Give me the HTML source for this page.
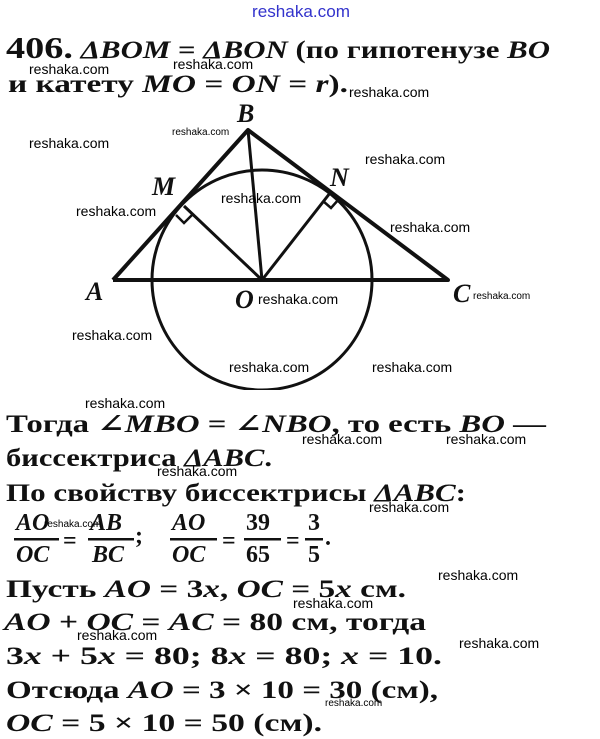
<!DOCTYPE html>
<html><head><meta charset="utf-8"><style>
html,body{margin:0;padding:0;background:#fff}
svg{display:block}
.t{font-family:"Liberation Serif","DejaVu Serif",serif;font-weight:bold;font-size:25px;fill:#111}
.i{font-style:italic}
.w{font-family:"Liberation Sans",sans-serif;font-size:14px;fill:#000}
.l{font-family:"Liberation Serif",serif;font-weight:bold;font-style:italic;font-size:26px;fill:#111}
</style></head><body>
<svg width="600" height="739" viewBox="0 0 600 739" xmlns="http://www.w3.org/2000/svg">
<text x="252" y="17" style="font-family:'Liberation Sans',sans-serif;font-size:17px;fill:#33c" textLength="98" lengthAdjust="spacingAndGlyphs">reshaka.com</text>
<text class="t" x="6" y="58" textLength="544" lengthAdjust="spacingAndGlyphs"><tspan font-size="31">406.</tspan> <tspan class="i">ΔBOM</tspan> = <tspan class="i">ΔBON</tspan> (по гипотенузе <tspan class="i">BO</tspan></text>
<text class="t" x="8" y="92" textLength="340" lengthAdjust="spacingAndGlyphs">и катету <tspan class="i">MO</tspan> = <tspan class="i">ON</tspan> = <tspan class="i">r</tspan>).</text>
<g stroke="#111" fill="none">
<circle cx="262" cy="280" r="110" stroke-width="3"/>
<polyline points="113,280 448,280 248,130 113,280" stroke-width="4" stroke-linejoin="round"/>
<line x1="248" y1="130" x2="262" y2="280" stroke-width="3"/>
<line x1="262" y1="280" x2="184" y2="206" stroke-width="3"/>
<line x1="262" y1="280" x2="330" y2="193" stroke-width="3"/>
<polyline points="176,215 184,223 193,214" stroke-width="2.5"/>
<polyline points="323,201 331,208 339,199" stroke-width="2.5"/>
</g>
<rect x="0" y="390" width="600" height="2" fill="#fff"/>
<text class="l" x="237" y="122">B</text>
<text class="l" x="152" y="195">M</text>
<text class="l" x="330" y="186">N</text>
<text class="l" x="86" y="300">A</text>
<text class="l" x="235" y="308">O</text>
<text class="l" x="453" y="302">C</text>
<text class="t" x="6" y="432" textLength="540" lengthAdjust="spacingAndGlyphs">Тогда ∠<tspan class="i">MBO</tspan> = ∠<tspan class="i">NBO</tspan>, то есть <tspan class="i">BO</tspan> —</text>
<text class="t" x="6" y="466" textLength="266" lengthAdjust="spacingAndGlyphs">биссектриса <tspan class="i">ΔABC</tspan>.</text>
<text class="t" x="6" y="501" textLength="460" lengthAdjust="spacingAndGlyphs">По свойству биссектрисы <tspan class="i">ΔABC</tspan>:</text>
<g class="t i">
<text x="16" y="530" font-size="24">AO</text><text x="16" y="562" font-size="24">OC</text>
<text x="90" y="530" font-size="24">AB</text><text x="92" y="562" font-size="24">BC</text>
<text x="172" y="530" font-size="24">AO</text><text x="172" y="562" font-size="24">OC</text>
</g>
<g class="t">
<text x="246" y="530" font-size="24">39</text><text x="246" y="562" font-size="24">65</text>
<text x="308" y="530" font-size="24">3</text><text x="308" y="562" font-size="24">5</text>
<text x="63" y="548" font-size="24">=</text><text x="222" y="548" font-size="24">=</text><text x="286" y="548" font-size="24">=</text>
<text x="135" y="543" font-size="24">;</text><text x="325" y="545" font-size="24">.</text>
</g>
<g fill="#111">
<rect x="14" y="538" width="45" height="2.5"/><rect x="88" y="538" width="46" height="2.5"/>
<rect x="170" y="538" width="47" height="2.5"/><rect x="244" y="538" width="37" height="2.5"/>
<rect x="305" y="538" width="18" height="2.5"/>
</g>
<text class="t" x="6" y="597" textLength="400" lengthAdjust="spacingAndGlyphs">Пусть <tspan class="i">AO</tspan> = 3<tspan class="i">x</tspan>, <tspan class="i">OC</tspan> = 5<tspan class="i">x</tspan> см.</text>
<text class="t" x="4" y="630" textLength="422" lengthAdjust="spacingAndGlyphs"><tspan class="i">AO</tspan> + <tspan class="i">OC</tspan> = <tspan class="i">AC</tspan> = 80 см, тогда</text>
<text class="t" x="6" y="664" textLength="436" lengthAdjust="spacingAndGlyphs">3<tspan class="i">x</tspan> + 5<tspan class="i">x</tspan> = 80; 8<tspan class="i">x</tspan> = 80; <tspan class="i">x</tspan> = 10.</text>
<text class="t" x="6" y="698" textLength="432" lengthAdjust="spacingAndGlyphs">Отсюда <tspan class="i">AO</tspan> = 3 × 10 = 30 (см),</text>
<text class="t" x="6" y="731" textLength="316" lengthAdjust="spacingAndGlyphs"><tspan class="i">OC</tspan> = 5 × 10 = 50 (см).</text>
<g class="w">
<text x="29" y="74">reshaka.com</text>
<text x="173" y="69">reshaka.com</text>
<text x="349" y="97">reshaka.com</text>
<text x="172" y="135" font-size="10">reshaka.com</text>
<text x="29" y="148">reshaka.com</text>
<text x="365" y="164">reshaka.com</text>
<text x="221" y="203">reshaka.com</text>
<text x="76" y="216">reshaka.com</text>
<text x="390" y="232">reshaka.com</text>
<text x="258" y="304">reshaka.com</text>
<text x="473" y="299" font-size="10">reshaka.com</text>
<text x="72" y="340">reshaka.com</text>
<text x="229" y="372">reshaka.com</text>
<text x="372" y="372">reshaka.com</text>
<text x="85" y="408">reshaka.com</text>
<text x="302" y="444">reshaka.com</text>
<text x="446" y="444">reshaka.com</text>
<text x="157" y="476">reshaka.com</text>
<text x="44" y="527" font-size="10">reshaka.com</text>
<text x="369" y="512">reshaka.com</text>
<text x="438" y="580">reshaka.com</text>
<text x="293" y="608">reshaka.com</text>
<text x="77" y="640">reshaka.com</text>
<text x="459" y="648">reshaka.com</text>
<text x="325" y="706" font-size="10">reshaka.com</text>
</g>
</svg>
</body></html>
